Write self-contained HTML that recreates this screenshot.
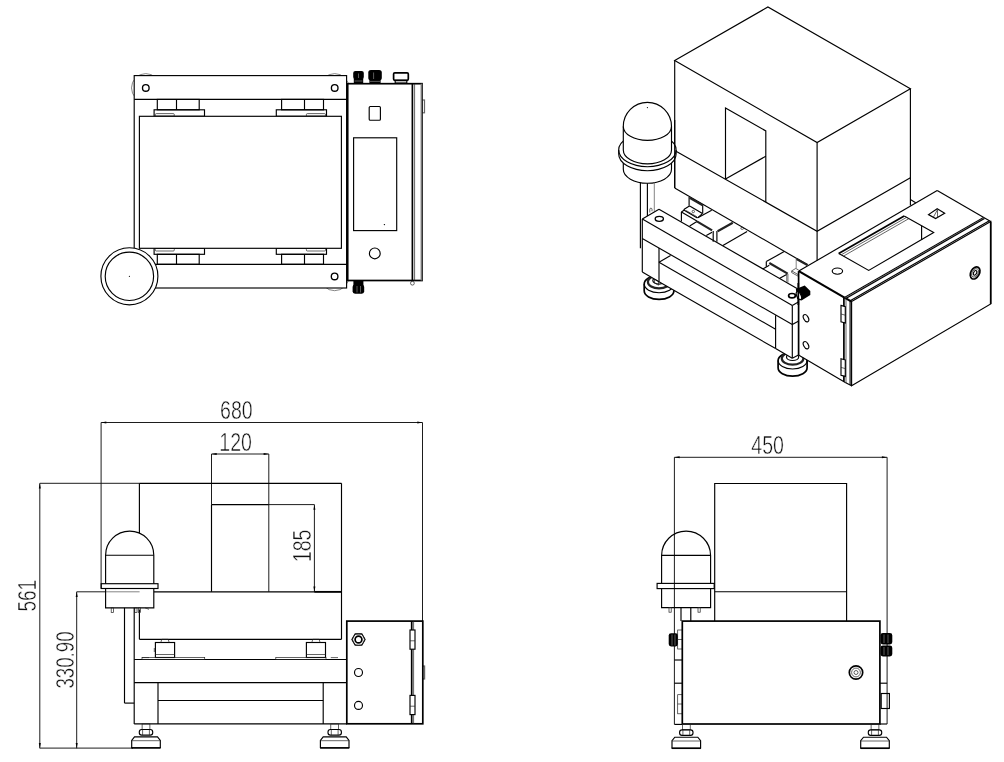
<!DOCTYPE html>
<html><head><meta charset="utf-8"><title>Drawing</title>
<style>
html,body{margin:0;padding:0;background:#fff;}
svg{display:block;}
line,path,rect,circle,ellipse{fill:none;stroke:#000;stroke-width:1.15;stroke-linecap:butt;stroke-linejoin:miter;}
.kw{fill:#fff;}
.w{fill:#fff;stroke:none;}
.t{stroke-width:0.7;stroke:#222;}
.g{stroke-width:0.8;stroke:#666;}
.gk{stroke-width:1.2;stroke:#666;}
.gb{stroke-width:1.6;stroke:#777;}
.d{stroke-width:0.95;stroke:#111;}
.b{stroke-width:1.7;}
.b2{stroke-width:2.2;}
.bw{stroke-width:1.7;fill:#fff;}
.bb{stroke-width:2.2;stroke:#222;}
.h{stroke-width:1.35;}
.f{fill:#000;stroke:none;}
.wf{fill:#fff;stroke:none;}
.wl{stroke:#999;stroke-width:0.6;}
text.dim{font-family:"Liberation Sans",sans-serif;fill:#111;stroke:#fff;stroke-width:0.5px;paint-order:fill;filter:grayscale(1);}
</style></head>
<body>
<svg width="1004" height="762" viewBox="0 0 1004 762">
<rect class="w" x="0" y="0" width="1004" height="762"/>
<g id="topview">
<circle class="g" cx="145.8" cy="87.9" r="14.3"/>
<circle class="g" cx="334.7" cy="87.9" r="14.3"/>
<circle class="g" cx="334.6" cy="276.4" r="14.3"/>
<rect class="kw" x="134.2" y="75.6" width="212.4" height="212.4"/>
<line class="k" x1="134.2" y1="99.4" x2="346.6" y2="99.4"/>
<line class="k" x1="134.2" y1="264.3" x2="346.6" y2="264.3"/>
<rect class="k" x="157.3" y="99.4" width="41.9" height="10.4"/>
<line class="k" x1="176.5" y1="99.4" x2="176.5" y2="109.8"/>
<rect class="k" x="154.1" y="109.8" width="50.4" height="6.5"/>
<rect class="t" x="155.3" y="113.6" width="19.0" height="2.7" rx="1"/>
<rect class="k" x="157.3" y="254.3" width="41.9" height="10.0"/>
<line class="k" x1="176.5" y1="254.3" x2="176.5" y2="264.3"/>
<rect class="k" x="154.1" y="248.3" width="50.4" height="6.0"/>
<rect class="t" x="155.3" y="248.3" width="19.0" height="2.7" rx="1"/>
<rect class="k" x="281.6" y="99.4" width="41.9" height="10.4"/>
<line class="k" x1="304.5" y1="99.4" x2="304.5" y2="109.8"/>
<rect class="k" x="276.3" y="109.8" width="50.2" height="6.5"/>
<rect class="t" x="306.4" y="113.6" width="19.1" height="2.7" rx="1"/>
<rect class="k" x="281.6" y="254.3" width="41.9" height="10.0"/>
<line class="k" x1="304.5" y1="254.3" x2="304.5" y2="264.3"/>
<rect class="k" x="276.3" y="248.3" width="50.2" height="6.0"/>
<rect class="t" x="306.4" y="248.3" width="19.1" height="2.7" rx="1"/>
<rect class="kw" x="139.4" y="116.3" width="202.0" height="132.0"/>
<circle class="h" cx="145.8" cy="87.9" r="3.3"/>
<circle class="h" cx="334.7" cy="87.9" r="3.3"/>
<circle class="h" cx="334.6" cy="276.4" r="3.3"/>
<circle class="kw" cx="129.4" cy="276.3" r="28.5"/>
<circle class="k" cx="129.4" cy="276.3" r="24.2"/>
<circle class="f" cx="129.4" cy="276.3" r="0.6"/>
<rect class="f" x="353.2" y="70.9" width="10.6" height="8.4" rx="2.2"/>
<rect class="f" x="353.8" y="78.5" width="9.4" height="4.6"/>
<rect class="f" x="368.3" y="70.0" width="13.5" height="10.4" rx="2.6"/>
<rect class="f" x="369.4" y="79.5" width="11.2" height="3.8"/>
<line class="wl" x1="358.5" y1="73.5" x2="358.5" y2="78.0"/>
<line class="wl" x1="373.6" y1="72.5" x2="373.6" y2="79.0"/>
<line class="wl" x1="354.5" y1="81.0" x2="362.5" y2="81.0"/>
<line class="wl" x1="370.0" y1="81.4" x2="380.0" y2="81.4"/>
<rect class="b" x="393.6" y="72.8" width="14.7" height="7.5" rx="1.2"/>
<rect class="k" x="395.2" y="80.3" width="11.6" height="2.7"/>
<rect class="f" x="352.6" y="284.5" width="11.6" height="9.2" rx="2.4"/>
<rect class="f" x="353.4" y="281" width="10" height="4"/>
<line class="wl" x1="357.0" y1="286.0" x2="357.0" y2="292.5"/>
<line class="wl" x1="360.5" y1="286.0" x2="360.5" y2="292.5"/>
<circle class="t" cx="412.4" cy="283.2" r="1.9"/>
<rect class="gk" x="422.2" y="100.0" width="2.3" height="12.8"/>
<rect class="bw" x="347.7" y="83.7" width="74.3" height="196.8"/>
<line class="b" x1="412.4" y1="83.7" x2="412.4" y2="280.5"/>
<line class="gb" x1="421.4" y1="83.7" x2="421.4" y2="280.5"/>
<line class="t" x1="414.6" y1="84.0" x2="414.6" y2="280.5"/>
<rect class="k" x="369.2" y="106.5" width="11.2" height="13.7" rx="1"/>
<rect class="k" x="353.6" y="137.8" width="43.1" height="92.8"/>
<circle class="f" cx="384.4" cy="224.6" r="0.7"/>
<circle class="k" cx="374.8" cy="253.4" r="5.4"/>
</g>
<g id="frontview" style="opacity:0.999">
<line class="d" x1="101.1" y1="422.5" x2="422.5" y2="422.5"/>
<line class="d" x1="101.1" y1="422.5" x2="101.1" y2="588.5"/>
<line class="d" x1="422.5" y1="422.5" x2="422.5" y2="621.1"/>
<path class="f" d="M101.1 422.5 L106.3 421.5 L106.3 423.5 Z"/>
<path class="f" d="M422.5 422.5 L417.3 423.5 L417.3 421.5 Z"/>
<line class="d" x1="211.5" y1="454.0" x2="268.8" y2="454.0"/>
<line class="d" x1="211.5" y1="454.0" x2="211.5" y2="504.6"/>
<line class="d" x1="268.8" y1="454.0" x2="268.8" y2="591.8"/>
<path class="f" d="M211.5 454.0 L216.7 453.0 L216.7 455.0 Z"/>
<path class="f" d="M268.8 454.0 L263.6 455.0 L263.6 453.0 Z"/>
<line class="d" x1="39.8" y1="483.3" x2="39.8" y2="748.3"/>
<line class="d" x1="39.8" y1="483.3" x2="139.4" y2="483.3"/>
<line class="d" x1="39.8" y1="748.1" x2="133.0" y2="748.1"/>
<path class="f" d="M39.8 483.3 L40.8 488.5 L38.8 488.5 Z"/>
<path class="f" d="M39.8 748.3 L38.8 743.1 L40.8 743.1 Z"/>
<line class="d" x1="76.7" y1="591.8" x2="76.7" y2="748.3"/>
<line class="d" x1="76.7" y1="591.8" x2="105.7" y2="591.8"/>
<line class="g" x1="105.7" y1="591.8" x2="139.6" y2="591.8"/>
<path class="f" d="M76.7 591.8 L77.7 597.0 L75.7 597.0 Z"/>
<path class="f" d="M76.7 748.3 L75.7 743.1 L77.7 743.1 Z"/>
<line class="d" x1="314.4" y1="504.6" x2="314.4" y2="591.8"/>
<line class="d" x1="268.8" y1="504.6" x2="314.4" y2="504.6"/>
<path class="f" d="M314.4 504.6 L315.4 509.8 L313.4 509.8 Z"/>
<path class="f" d="M314.4 591.8 L313.4 586.6 L315.4 586.6 Z"/>
<text class="dim" transform="translate(236.4 418.9) scale(0.78 1)" font-size="25.1" text-anchor="middle">680</text>
<text class="dim" transform="translate(235.6 450.9) scale(0.78 1)" font-size="25.1" text-anchor="middle">120</text>
<text class="dim" transform="translate(36.0 595.7) rotate(-90) scale(0.76 1)" font-size="25.1" text-anchor="middle">561</text>
<text class="dim" transform="translate(73.9 660.0) rotate(-90) scale(0.745 1)" font-size="25.1" text-anchor="middle">330.90</text>
<text class="dim" transform="translate(311.2 545.9) rotate(-90) scale(0.78 1)" font-size="25.1" text-anchor="middle">185</text>
<line class="k" x1="139.4" y1="483.3" x2="341.5" y2="483.3"/>
<line class="k" x1="341.5" y1="483.3" x2="341.5" y2="639.3"/>
<line class="k" x1="139.4" y1="483.3" x2="139.4" y2="533.2"/>
<line class="k" x1="139.4" y1="609.5" x2="139.4" y2="639.3"/>
<line class="k" x1="139.4" y1="639.3" x2="341.5" y2="639.3"/>
<line class="k" x1="153.9" y1="591.8" x2="341.5" y2="591.8"/>
<line class="b" x1="314.4" y1="591.8" x2="341.5" y2="591.8"/>
<line class="k" x1="211.5" y1="504.6" x2="268.8" y2="504.6"/>
<line class="k" x1="211.5" y1="504.6" x2="211.5" y2="591.8"/>
<path class="k" d="M105.6 583.7 V555.2 A24.1 24.1 0 0 1 153.8 555.2 V583.7"/>
<line class="k" x1="105.6" y1="555.2" x2="153.8" y2="555.2"/>
<rect class="k" x="101.2" y="583.7" width="56.8" height="4.8"/>
<path class="k" d="M105.6 588.5 L105.6 607.8 L153.8 607.8 L153.8 588.5"/>
<rect class="t" x="111.2" y="607.8" width="2.2" height="4.6"/>
<rect class="t" x="134.8" y="607.8" width="2.2" height="4.6"/>
<rect class="t" x="138.3" y="607.8" width="2.2" height="4.6"/>
<line class="t" x1="145.0" y1="607.8" x2="149.0" y2="609.3"/>
<line class="k" x1="124.5" y1="607.8" x2="124.5" y2="703.1"/>
<line class="k" x1="124.5" y1="703.1" x2="134.2" y2="703.1"/>
<line class="k" x1="134.2" y1="607.8" x2="134.2" y2="723.9"/>
<line class="k" x1="134.2" y1="659.5" x2="346.8" y2="659.5"/>
<line class="k" x1="134.2" y1="682.6" x2="346.8" y2="682.6"/>
<line class="k" x1="134.2" y1="723.9" x2="346.8" y2="723.9"/>
<line class="k" x1="158.0" y1="682.6" x2="158.0" y2="723.9"/>
<line class="k" x1="323.2" y1="682.6" x2="323.2" y2="723.9"/>
<line class="k" x1="158.0" y1="700.5" x2="323.2" y2="700.5"/>
<rect class="k" x="155.4" y="642.5" width="19.2" height="15.0"/>
<line class="t" x1="155.4" y1="654.5" x2="174.6" y2="654.5"/>
<path class="t" d="M160.8 642.5 L161.8 639.3 L168.2 639.3 L169.2 642.5"/>
<rect class="k" x="306.4" y="642.5" width="19.1" height="15.0"/>
<line class="t" x1="306.4" y1="654.5" x2="325.5" y2="654.5"/>
<path class="t" d="M311.8 642.5 L312.8 639.3 L319.1 639.3 L320.1 642.5"/>
<line class="t" x1="154.3" y1="648.0" x2="154.3" y2="652.0"/>
<rect class="t" x="142.0" y="657.6" width="62.7" height="1.9"/>
<line class="t" x1="142.0" y1="657.6" x2="149.0" y2="657.6"/>
<rect class="t" x="275.8" y="657.6" width="50.2" height="1.9"/>
<line class="t" x1="330.8" y1="657.6" x2="338.0" y2="657.6"/>
<rect class="t" x="142.1" y="723.9" width="7.8" height="5.6"/>
<rect class="k" x="139.3" y="729.5" width="13.4" height="5.6" rx="2.4"/>
<line class="t" x1="142.6" y1="729.5" x2="142.6" y2="735.1"/>
<line class="t" x1="149.4" y1="729.5" x2="149.4" y2="735.1"/>
<path class="k" d="M131.7 748.1 L131.7 740.4 L134.5 736.9 L157.5 736.9 L160.3 740.4 L160.3 748.1"/>
<line class="t" x1="131.7" y1="740.7" x2="160.3" y2="740.7"/>
<line class="b" x1="131.4" y1="747.9" x2="160.6" y2="747.9"/>
<rect class="t" x="330.8" y="723.9" width="7.8" height="5.6"/>
<rect class="k" x="328.0" y="729.5" width="13.4" height="5.6" rx="2.4"/>
<line class="t" x1="331.3" y1="729.5" x2="331.3" y2="735.1"/>
<line class="t" x1="338.1" y1="729.5" x2="338.1" y2="735.1"/>
<path class="k" d="M320.4 748.1 L320.4 740.4 L323.2 736.9 L346.2 736.9 L349.0 740.4 L349.0 748.1"/>
<line class="t" x1="320.4" y1="740.7" x2="349.0" y2="740.7"/>
<line class="b" x1="320.1" y1="747.9" x2="349.3" y2="747.9"/>
<rect class="gk" x="422.8" y="666.0" width="1.8" height="13.0"/>
<rect class="bw" x="346.8" y="621.1" width="76.0" height="102.7"/>
<line class="b" x1="411.7" y1="621.1" x2="411.7" y2="723.8"/>
<line class="t" x1="413.6" y1="621.1" x2="413.6" y2="723.8"/>
<rect class="kw" x="410.0" y="630.0" width="5.0" height="19.2"/>
<line class="t" x1="410.0" y1="640.8" x2="415.0" y2="640.8"/>
<rect class="kw" x="410.0" y="695.4" width="5.0" height="19.2"/>
<line class="t" x1="410.0" y1="706.2" x2="415.0" y2="706.2"/>
<path class="k" d="M365.1 639.5 L361.8 645.2 L355.2 645.2 L351.9 639.5 L355.2 633.8 L361.8 633.8 Z"/>
<circle class="t" cx="358.5" cy="639.5" r="5.9"/>
<circle class="b" cx="358.5" cy="639.5" r="3.4"/>
<circle class="k" cx="358.5" cy="672.5" r="4.0"/>
<circle class="k" cx="358.5" cy="705.4" r="4.0"/>
</g>
<g id="sideview" style="opacity:0.999">
<line class="d" x1="674.4" y1="457.3" x2="887.1" y2="457.3"/>
<line class="d" x1="674.4" y1="457.3" x2="674.4" y2="724.4"/>
<line class="d" x1="887.1" y1="457.3" x2="887.1" y2="724.0"/>
<path class="f" d="M674.4 457.3 L679.6 456.3 L679.6 458.3 Z"/>
<path class="f" d="M887.1 457.3 L881.9 458.3 L881.9 456.3 Z"/>
<text class="dim" transform="translate(767.6 454.2) scale(0.78 1)" font-size="25.1" text-anchor="middle">450</text>
<path class="k" d="M714.7 621.1 L714.7 483.5 L846.6 483.5 L846.6 621.1"/>
<line class="k" x1="714.7" y1="591.7" x2="846.6" y2="591.7"/>
<path class="k" d="M661.6 583.4 V555.6 A24.5 24.5 0 0 1 710.6 555.6 V583.4"/>
<line class="k" x1="661.6" y1="555.4" x2="710.6" y2="555.4"/>
<rect class="k" x="657.1" y="583.4" width="57.1" height="5.2"/>
<path class="k" d="M661.6 588.6 L661.6 607.6 L710.6 607.6 L710.6 588.6"/>
<rect class="t" x="669.0" y="607.6" width="2.2" height="4.6"/>
<rect class="t" x="698.0" y="607.6" width="2.2" height="4.6"/>
<line class="k" x1="681.0" y1="607.6" x2="681.0" y2="621.1"/>
<line class="k" x1="690.8" y1="607.6" x2="690.8" y2="621.1"/>
<line class="k" x1="674.4" y1="660.0" x2="682.3" y2="660.0"/>
<line class="k" x1="674.4" y1="683.2" x2="682.3" y2="683.2"/>
<line class="k" x1="674.4" y1="724.4" x2="682.3" y2="724.4"/>
<line class="k" x1="879.9" y1="683.2" x2="887.1" y2="683.2"/>
<line class="k" x1="879.9" y1="724.0" x2="887.1" y2="724.0"/>
<rect class="f" x="668.7" y="633.2" width="9.3" height="13.2" rx="2.4"/>
<line class="wl" x1="672.0" y1="634.5" x2="672.0" y2="645.5"/>
<line class="wl" x1="675.0" y1="634.5" x2="675.0" y2="645.5"/>
<rect class="t" x="677.7" y="630.0" width="4.6" height="19.0"/>
<line class="t" x1="677.7" y1="639.5" x2="682.3" y2="639.5"/>
<rect class="t" x="677.7" y="694.7" width="4.6" height="19.1"/>
<line class="t" x1="677.7" y1="704.0" x2="682.3" y2="704.0"/>
<rect class="f" x="880.5" y="633.0" width="11.8" height="11.4" rx="2.4"/>
<rect class="f" x="880.5" y="645.6" width="11.8" height="10.8" rx="2.4"/>
<line class="wl" x1="884.0" y1="634.5" x2="884.0" y2="643.0"/>
<line class="wl" x1="884.0" y1="647.0" x2="884.0" y2="655.0"/>
<line class="wl" x1="888.0" y1="634.5" x2="888.0" y2="643.0"/>
<line class="wl" x1="888.0" y1="647.0" x2="888.0" y2="655.0"/>
<rect class="k" x="881.2" y="693.5" width="8.2" height="15.0"/>
<rect class="bw" x="682.3" y="621.1" width="197.6" height="102.9"/>
<circle class="b" cx="856.0" cy="672.5" r="6.7"/>
<circle class="t" cx="856.0" cy="672.5" r="4.4"/>
<circle class="t" cx="856.0" cy="672.5" r="2.0"/>
<rect class="t" x="682.4" y="724.2" width="7.8" height="5.6"/>
<rect class="k" x="679.6" y="729.8" width="13.4" height="5.6" rx="2.4"/>
<line class="t" x1="682.9" y1="729.8" x2="682.9" y2="735.4"/>
<line class="t" x1="689.7" y1="729.8" x2="689.7" y2="735.4"/>
<path class="k" d="M672.0 748.4 L672.0 740.7 L674.8 737.2 L697.8 737.2 L700.6 740.7 L700.6 748.4"/>
<line class="t" x1="672.0" y1="741.0" x2="700.6" y2="741.0"/>
<line class="b" x1="671.7" y1="748.2" x2="700.9" y2="748.2"/>
<rect class="t" x="871.1" y="724.2" width="7.8" height="5.6"/>
<rect class="k" x="868.3" y="729.8" width="13.4" height="5.6" rx="2.4"/>
<line class="t" x1="871.6" y1="729.8" x2="871.6" y2="735.4"/>
<line class="t" x1="878.4" y1="729.8" x2="878.4" y2="735.4"/>
<path class="k" d="M860.7 748.4 L860.7 740.7 L863.5 737.2 L886.5 737.2 L889.3 740.7 L889.3 748.4"/>
<line class="t" x1="860.7" y1="741.0" x2="889.3" y2="741.0"/>
<line class="b" x1="860.4" y1="748.2" x2="889.6" y2="748.2"/>
</g>
<g id="isoview">
<path class="bw" d="M644.2 284.1 V290.8 A14.8 8.6 0 0 0 673.9 290.8 V284.1 A14.8 8.6 0 0 0 644.2 284.1 Z"/>
<path class="k" d="M644.2 284.1 A14.8 8.6 0 0 0 673.9 284.1"/>
<ellipse class="bb" cx="659.0" cy="281.9" rx="11.1" ry="6.4"/>
<ellipse class="k" cx="659.0" cy="280.5" rx="6.2" ry="3.6"/>
<path class="bw" d="M778.1 360.6 V367.8 A14.4 8.3 0 0 0 807.1 367.8 V360.6 A14.4 8.3 0 0 0 778.1 360.6 Z"/>
<path class="k" d="M778.1 360.6 A14.4 8.3 0 0 0 807.1 360.6"/>
<ellipse class="bb" cx="792.6" cy="358.4" rx="10.8" ry="6.3"/>
<ellipse class="k" cx="792.6" cy="357.0" rx="6.1" ry="3.5"/>
<path class="w" d="M642.3 219.0 L659.0 209.2 L798.3 289.2 L798.3 355.2 L792.3 358.3 L775.6 348.6 L775.6 329.2 L659.0 262.3 L659.0 281.7 L642.3 272.1 Z"/>
<path class="w" d="M659.0 262.3 L775.6 329.2 L775.6 348.6 L659.0 281.7 Z"/>
<path class="w" d="M798.8 271.1 L844.5 297.6 L852.0 301.5 L852.0 385.6 L798.5 355.1 Z"/>
<path class="t" d="M654.5 279.1 L654.5 283.0 L658.5 285.2 L658.5 281.4 Z"/>
<path class="k" d="M674.7 60.4 L767.9 7.0 L910.4 88.7 L817.1 142.6 Z"/>
<line class="k" x1="674.7" y1="60.4" x2="674.7" y2="188.0"/>
<line class="k" x1="817.1" y1="142.6" x2="817.1" y2="260.4"/>
<line class="k" x1="910.4" y1="88.7" x2="910.4" y2="205.6"/>
<line class="k" x1="674.7" y1="188.0" x2="807.6" y2="264.8"/>
<path class="k" d="M674.7 150.4 L817.1 231.3 L910.4 177.8"/>
<path class="k" d="M725.5 179.0 L725.5 107.9 L765.8 130.9 L765.8 202.0"/>
<line class="k" x1="725.5" y1="179.0" x2="765.8" y2="156.2"/>
<line class="k" x1="910.4" y1="199.6" x2="915.7" y2="202.7"/>
<path class="k" d="M623.3 160.0 V169.3 A24.1 13.9 0 0 0 671.5 169.3 V160.0"/>
<path class="kw" d="M618.7 150.1 V154.1 A28.7 16.6 0 0 0 676.1 154.1 V150.1 A28.7 16.6 0 0 0 618.7 150.1 Z"/>
<path class="k" d="M618.7 150.1 A28.7 16.6 0 0 0 676.1 150.1"/>
<path class="kw" d="M623.3 150.0 V126.5 A24.1 24.1 0 0 1 671.5 126.5 V150.0 A24.1 13.9 0 0 1 623.3 150.0 Z"/>
<path class="k" d="M623.3 126.5 A24.1 13.9 0 0 0 671.5 126.5"/>
<circle class="f" cx="647.4" cy="107.6" r="0.6"/>
<line class="k" x1="674.7" y1="120.0" x2="674.7" y2="188.0"/>
<line class="k" x1="640.4" y1="182.6" x2="640.4" y2="248.3"/>
<line class="k" x1="647.4" y1="183.2" x2="647.4" y2="215.9"/>
<line class="g" x1="654.3" y1="182.2" x2="654.3" y2="211.6"/>
<path class="t" d="M649.8 212.5 V209.3 A1.1 1.1 0 0 1 652 209.3 V211.3"/>
<line class="k" x1="642.3" y1="219.0" x2="659.0" y2="209.2"/>
<line class="k" x1="642.3" y1="219.0" x2="792.3" y2="305.4"/>
<line class="k" x1="659.0" y1="209.2" x2="798.3" y2="289.2"/>
<line class="k" x1="792.3" y1="305.4" x2="798.3" y2="302.0"/>
<line class="k" x1="792.3" y1="324.6" x2="798.3" y2="321.2"/>
<line class="k" x1="792.3" y1="305.4" x2="792.3" y2="358.3"/>
<line class="k" x1="642.3" y1="219.0" x2="642.3" y2="272.1"/>
<line class="k" x1="642.3" y1="238.4" x2="792.3" y2="324.6"/>
<line class="k" x1="659.0" y1="248.0" x2="659.0" y2="281.7"/>
<line class="k" x1="642.3" y1="272.1" x2="659.0" y2="281.7"/>
<line class="k" x1="659.0" y1="262.3" x2="775.6" y2="329.2"/>
<line class="k" x1="659.0" y1="281.7" x2="775.6" y2="348.6"/>
<line class="k" x1="659.0" y1="262.3" x2="670.6" y2="255.6"/>
<line class="k" x1="775.6" y1="315.2" x2="775.6" y2="348.6"/>
<line class="k" x1="775.6" y1="348.6" x2="792.3" y2="358.3"/>
<line class="k" x1="792.3" y1="358.3" x2="798.5" y2="355.1"/>
<ellipse class="h" cx="659.3" cy="218.8" rx="4.1" ry="2.5"/>
<line class="k" x1="689.1" y1="197.1" x2="689.1" y2="205.8"/>
<line class="k" x1="702.7" y1="204.3" x2="702.7" y2="213.7"/>
<line class="bb" x1="689.6" y1="197.9" x2="702.7" y2="205.4"/>
<path class="k" d="M684.6 209.0 L689.0 206.3 Q689.8 205.9 690.6 206.4 L701.6 212.9 Q702.4 213.5 701.8 214.2 L698.2 217.4 Q697.4 218 696.5 217.5 L684.7 210.6 Q683.6 209.8 684.6 209.0 Z"/>
<line class="t" x1="686.2" y1="210.6" x2="697.0" y2="216.8"/>
<circle class="t" cx="693.3" cy="211.5" r="1.2"/>
<line class="k" x1="681.4" y1="211.9" x2="681.4" y2="221.5"/>
<line class="k" x1="681.4" y1="211.9" x2="684.3" y2="210.0"/>
<line class="k" x1="681.4" y1="211.9" x2="696.9" y2="220.9"/>
<line class="bb" x1="696.9" y1="221.4" x2="712.1" y2="230.4"/>
<line class="k" x1="689.7" y1="225.9" x2="696.9" y2="221.6"/>
<line class="k" x1="706.3" y1="235.6" x2="712.1" y2="232.2"/>
<line class="k" x1="697.8" y1="217.8" x2="711.7" y2="210.2"/>
<line class="k" x1="713.2" y1="230.9" x2="713.2" y2="241.8"/>
<line class="k" x1="716.9" y1="230.9" x2="716.9" y2="241.8"/>
<line class="bb" x1="717.6" y1="231.3" x2="732.8" y2="222.8"/>
<line class="k" x1="722.9" y1="245.4" x2="747.1" y2="231.4"/>
<ellipse class="t" cx="742.2" cy="228.3" rx="1.4" ry="1.1"/>
<line class="k" x1="766.3" y1="261.5" x2="784.2" y2="251.6"/>
<line class="k" x1="766.3" y1="261.5" x2="766.3" y2="266.8"/>
<line class="k" x1="762.8" y1="268.9" x2="769.3" y2="265.3"/>
<line class="bb" x1="769.3" y1="263.0" x2="787.7" y2="273.6"/>
<line class="g" x1="786.6" y1="273.8" x2="786.6" y2="281.9"/>
<line class="t" x1="787.9" y1="273.8" x2="787.9" y2="282.6"/>
<line class="k" x1="779.8" y1="278.3" x2="786.6" y2="274.6"/>
<path class="t" d="M791.7 270.9 L795.8 268.4 L798.8 270.2"/>
<line class="t" x1="791.7" y1="270.9" x2="791.7" y2="272.6"/>
<line class="t" x1="791.7" y1="272.6" x2="798.5" y2="276.4"/>
<line class="t" x1="791.7" y1="270.9" x2="798.5" y2="274.8"/>
<line class="g" x1="796.2" y1="258.3" x2="796.2" y2="268.0"/>
<line class="bb" x1="796.6" y1="259.0" x2="807.4" y2="265.0"/>
<line class="k" x1="798.8" y1="271.1" x2="937.2" y2="190.4"/>
<line class="k" x1="937.2" y1="190.4" x2="990.7" y2="221.6"/>
<line class="b2" x1="798.8" y1="271.1" x2="844.5" y2="297.6"/>
<line class="b2" x1="844.5" y1="297.6" x2="851.6" y2="301.6"/>
<line class="k" x1="844.5" y1="297.6" x2="983.1" y2="217.7"/>
<line class="g" x1="845.2" y1="298.0" x2="983.8" y2="218.1"/>
<line class="k" x1="845.9" y1="298.5" x2="984.5" y2="218.6"/>
<line class="k" x1="850.2" y1="300.8" x2="989.3" y2="220.8"/>
<path class="k" d="M851.6 301.6 L990.7 221.6 L990.7 304.0 L851.6 385.8 Z"/>
<line class="b" x1="990.7" y1="221.6" x2="990.7" y2="304.0"/>
<line class="b" x1="798.6" y1="271.1" x2="798.6" y2="355.2"/>
<line class="k" x1="798.5" y1="355.1" x2="845.3" y2="382.4"/>
<line class="b" x1="843.9" y1="297.6" x2="843.9" y2="381.8"/>
<line class="t" x1="846.0" y1="299.0" x2="846.0" y2="383.0"/>
<line class="k" x1="850.1" y1="300.8" x2="850.1" y2="385.0"/>
<line class="k" x1="845.3" y1="382.4" x2="851.6" y2="385.8"/>
<ellipse class="k" cx="806.0" cy="318.2" rx="2.3" ry="3.9" transform="rotate(-28 806.0 318.2)"/>
<ellipse class="k" cx="806.0" cy="345.2" rx="2.3" ry="3.9" transform="rotate(-28 806.0 345.2)"/>
<path class="kw" d="M841.0 305.4 L845.3 306.6 L845.3 323.0 L841.0 321.8 Z"/>
<line class="t" x1="841.0" y1="314.0" x2="845.3" y2="315.2"/>
<path class="kw" d="M841.0 358.8 L845.3 360.0 L845.3 376.4 L841.0 375.2 Z"/>
<line class="t" x1="841.0" y1="367.4" x2="845.3" y2="368.6"/>
<path class="k" d="M904.2 215.9 L933.7 232.6 L868.7 270.4 L838.7 253.4"/>
<line class="b" x1="838.7" y1="253.4" x2="904.2" y2="215.9"/>
<line class="t" x1="841.2" y1="254.8" x2="906.7" y2="217.3"/>
<line class="t" x1="843.5" y1="256.1" x2="908.9" y2="218.6"/>
<line class="k" x1="921.6" y1="225.8" x2="921.6" y2="239.9"/>
<path class="k" d="M937.2 208.7 L944.7 213.3 L935.6 218.6 L928.5 214.6 Z"/>
<line class="t" x1="937.5" y1="209.6" x2="937.5" y2="217.4"/>
<line class="t" x1="937.5" y1="209.6" x2="933.4" y2="217.2"/>
<ellipse class="k" cx="837.4" cy="271.1" rx="5.2" ry="3.1"/>
<ellipse class="b" cx="975.1" cy="272.9" rx="4.3" ry="6.5" transform="rotate(28 975.1 272.9)"/>
<ellipse class="t" cx="975.1" cy="272.9" rx="2.9" ry="4.6" transform="rotate(28 975.1 272.9)"/>
<ellipse class="k" cx="975.1" cy="272.9" rx="1.5" ry="2.5" transform="rotate(28 975.1 272.9)"/>
<ellipse class="b" cx="792.0" cy="295.7" rx="3.4" ry="2.2"/>
<path class="f" d="M795.9 289.0 L804.7 285.4 L810.3 290.9 L810.3 294.9 L801.5 300.5 L797.0 298.8 Z"/>
<ellipse class="kw" cx="798.9" cy="295.6" rx="2.1" ry="4.3" transform="rotate(-25 798.9 295.6)"/>
<line class="b" x1="798.3" y1="283.0" x2="798.3" y2="305.0"/>
</g>
</svg>
</body></html>
